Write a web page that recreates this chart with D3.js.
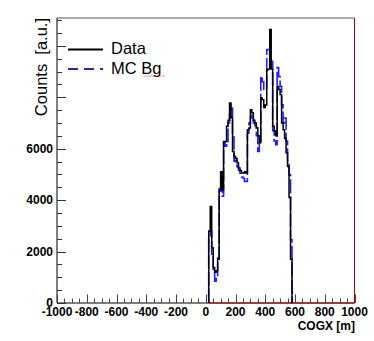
<!DOCTYPE html>
<html><head><meta charset="utf-8">
<script src="https://cdn.jsdelivr.net/npm/d3@7"></script>
<style>body{margin:0;background:#fff}svg{display:block}text{font-family:"Liberation Sans",Arial,sans-serif}</style>
</head><body>
<svg id="c" width="374" height="341"></svg>
<script>
// bin left edges (m), bin width 10 m
const binStart = 20, binWidth = 10;
const dataCounts = [2800,3750,2150,1380,1200,1250,1700,4430,5100,4400,
  6280,6280,6870,7100,7780,7200,5890,5700,5630,5450,
  5250,5150,5050,5050,5100,5050,6740,6800,7515,7400,
  7100,7000,6815,6500,6230,7970,7900,7600,7700,9070,
  9100,10630,9100,6870,6700,6500,8420,8300,8100,7000,
  6740,6400,5840,5310,4100,1700];
const mcCounts = [2550,2800,1900,1300,850,1000,1750,4350,4500,4150,
  6250,6100,6150,7000,7500,7580,6450,5500,5550,5300,
  5150,5050,4900,4850,4730,4730,6600,7000,7200,7300,
  7000,6900,6500,5890,6300,8810,8600,8300,8300,9850,
  9850,9600,9400,6700,6300,6150,9150,8800,8420,7710,
  7000,7190,6300,5450,4980,2460];
const xTickLabels = ["-1000","-800","-600","-400","-200","0","200","400","600","800","1000"];
const yTickLabels = ["0","2000","4000","6000"];
const xTitle = "COGX [m]";
const yTitle = "Counts  [a.u.]";
const legendLabels = ["Data","MC Bg"];

const svg = d3.select("#c");
const L = 57, R = 354.5, T = 18, B = 303;
const x = d3.scaleLinear().domain([-1000,1000]).range([L,R]);
const y = d3.scaleLinear().domain([0,11080]).range([B,T]);

// frame
svg.append("line").attr("x1",L).attr("x2",R).attr("y1",T).attr("y2",T).attr("stroke","#555").attr("stroke-width",1);
svg.append("line").attr("x1",L).attr("x2",L).attr("y1",T).attr("y2",B).attr("stroke","#000").attr("stroke-width",1);
svg.append("line").attr("x1",L).attr("x2",R).attr("y1",B).attr("y2",B).attr("stroke","#000").attr("stroke-width",1);
// red zero histogram along bottom + right edge
svg.append("line").attr("x1",x(binStart)).attr("x2",R).attr("y1",B).attr("y2",B).attr("stroke","#b00000").attr("stroke-width",1);
svg.append("line").attr("x1",R).attr("x2",R).attr("y1",T).attr("y2",B).attr("stroke","#b00000").attr("stroke-width",1);

// y ticks
const yMinor = d3.range(0,11001,500);
svg.append("g").selectAll("line").data(yMinor).join("line")
  .attr("x1",L).attr("x2",d=> d%2000===0 ? L+9 : L+5)
  .attr("y1",d=>Math.round(y(d))+0.5).attr("y2",d=>Math.round(y(d))+0.5)
  .attr("stroke","#333").attr("stroke-width",1);
svg.append("g").selectAll("text").data(yTickLabels).join("text")
  .attr("x",L-4).attr("y",d=>y(+d)+4.3).attr("text-anchor","end")
  .attr("font-size",12).attr("font-weight","bold").text(d=>d);

// x ticks
const xMinor = d3.range(-1000,1001,50);
svg.append("g").selectAll("line").data(xMinor).join("line")
  .attr("x1",d=>Math.round(x(d))+0.5).attr("x2",d=>Math.round(x(d))+0.5)
  .attr("y1",B).attr("y2",d=> d%200===0 ? B-8.5 : B-4.5)
  .attr("stroke","#444").attr("stroke-width",1);
svg.append("g").selectAll("text").data(xTickLabels).join("text")
  .attr("x",d=>x(+d)).attr("y",316).attr("text-anchor","middle")
  .attr("font-size",12).attr("font-weight","bold").text(d=>d);
svg.append("text").attr("x",355).attr("y",329.5).attr("text-anchor","end")
  .attr("font-size",12).attr("font-weight","bold").text(xTitle);
svg.append("text").attr("transform","translate(47,18) rotate(-90)")
  .attr("text-anchor","end").attr("font-size",16.5).attr("xml:space","preserve").style("white-space","pre").text(yTitle);

// histograms
function stepPts(vals){
  const pts=[[binStart,0]];
  vals.forEach((v,i)=>{const l=binStart+i*binWidth;pts.push([l,v]);pts.push([l+binWidth,v]);});
  pts.push([binStart+vals.length*binWidth,0]);
  return pts;
}
const line = d3.line().x(d=>x(d[0])).y(d=>y(d[1]));
svg.append("path").attr("d",line(stepPts(mcCounts))).attr("fill","none")
  .attr("stroke","#1f1fff").attr("stroke-width",1.6).attr("stroke-dasharray","14,3");
svg.append("path").attr("d",line(stepPts(dataCounts))).attr("fill","none")
  .attr("stroke","#000").attr("stroke-width",1.5);

// legend
svg.append("line").attr("x1",68).attr("x2",103).attr("y1",49.5).attr("y2",49.5).attr("stroke","#000").attr("stroke-width",2);
svg.append("line").attr("x1",68).attr("x2",103).attr("y1",69).attr("y2",69).attr("stroke","#2a2aa8").attr("stroke-width",2).attr("stroke-dasharray","10,6");
svg.append("text").attr("x",111).attr("y",54).attr("font-size",16.5).text(legendLabels[0]);
svg.append("text").attr("x",111).attr("y",74).attr("font-size",16.5).text(legendLabels[1]);
// spell-check squiggle under "Bg"
svg.append("path").attr("d","M144,76.5 l1.5,-1 l1.5,1 l1.5,-1 l1.5,1 l1.5,-1 l1.5,1 l1.5,-1 l1.5,1 l1.5,-1 l1.5,1 l1.5,-1 l1.5,1 l1.5,-1 l1.5,1")
  .attr("fill","none").attr("stroke","#e05050").attr("stroke-width",0.7).attr("opacity",0.8);
</script>
</body></html>
